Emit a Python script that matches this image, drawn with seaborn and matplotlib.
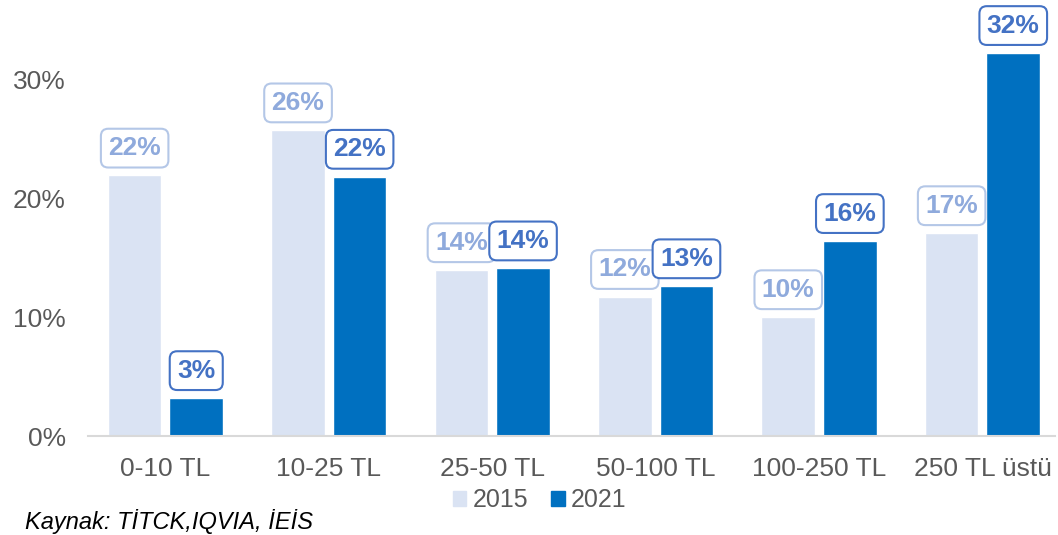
import pandas as pd
import matplotlib
matplotlib.use("Agg")
import matplotlib.pyplot as plt
import seaborn as sns

# price bands (share of market, %)
categories = ["0-10 TL", "10-25 TL", "25-50 TL", "50-100 TL", "100-250 TL", "250 TL üstü"]
share_2015 = [21.9, 25.7, 13.95, 11.7, 10.0, 17.06]
share_2021 = [3.2, 21.8, 14.1, 12.6, 16.4, 32.2]
years = ["2015", "2021"]
yticks = [0, 10, 20, 30]

df = pd.DataFrame({
    "band": categories * 2,
    "year": [years[0]] * len(categories) + [years[1]] * len(categories),
    "share": share_2015 + share_2021,
})

sns.set_style("white")
plt.rcParams["font.family"] = ["Liberation Sans", "DejaVu Sans"]

fig = plt.figure(figsize=(10.58, 5.35), dpi=100)
ax = fig.add_axes([88 / 1058, 99 / 535, (1055 - 88) / 1058, 436 / 535])

palette = {"2015": "#dae3f3", "2021": "#0070c0"}
sns.barplot(data=df, x="band", y="share", hue="year", palette=palette,
            width=0.754, gap=0.13, ax=ax, legend=False, saturation=1)

ax.set_xlim(-0.474, 5.444)
ax.set_ylim(0, 36.64)
ax.set_yticks(yticks)
ax.set_yticklabels([f"{t}%" for t in yticks])
ax.set_xlabel("")
ax.set_ylabel("")
ax.tick_params(axis="y", length=0, pad=16, labelsize=19, labelcolor="#595959")
ax.tick_params(axis="x", length=0, pad=15, labelsize=19, labelcolor="#595959")
for s in ["top", "right", "left"]:
    ax.spines[s].set_visible(False)
ax.spines["bottom"].set_color("#d9d9d9")
ax.spines["bottom"].set_linewidth(1.5)

# value labels in rounded boxes
label_style = [
    ("#8faadc", "#b4c7e7", 3),
    ("#4472c4", "#4472c4", 4),
]
for cont, vals, (tc, ec, z) in zip(ax.containers, [share_2015, share_2021], label_style):
    texts = ax.bar_label(cont, labels=[f"{v:.0f}%" for v in vals], padding=11,
                         fontsize=19, fontweight="bold", color=tc,
                         bbox=dict(boxstyle="round,pad=0.28", fc="white", ec=ec, lw=1.5))
    for t in texts:
        t.set_zorder(z)

# legend
handles = [plt.Rectangle((0, 0), 1, 1, color=palette[y]) for y in years]
fig.legend(handles, years, loc="center", bbox_to_anchor=(0.51, 0.065), ncol=2,
           frameon=False, fontsize=18, handlelength=0.55, handleheight=0.55,
           handletextpad=0.25, columnspacing=0.9, labelcolor="#595959")

fig.text(25 / 1058, 1 - 522 / 535, "Kaynak: TİTCK,IQVIA, İEİS", fontsize=17,
         style="italic", color="black", va="center", ha="left")

fig.savefig("out.png", dpi=100)
